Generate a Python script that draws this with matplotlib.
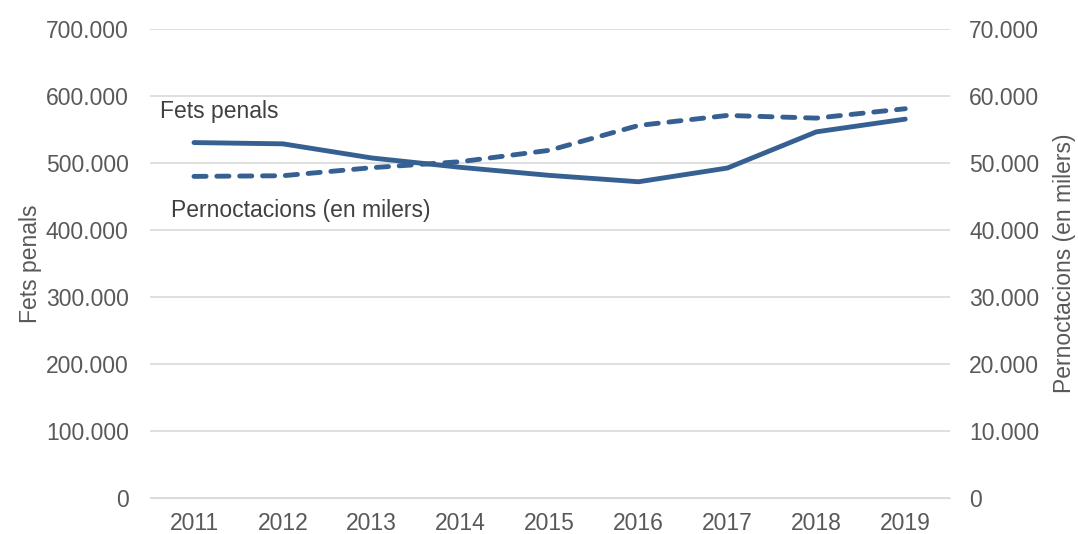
import matplotlib.pyplot as plt
from matplotlib.ticker import FuncFormatter

plt.rcParams['font.family'] = ['Liberation Sans', 'DejaVu Sans']

anys = ['2011', '2012', '2013', '2014', '2015', '2016', '2017', '2018', '2019']
fets_penals = [530500, 528600, 507500, 493500, 481500, 472000, 492500, 546500, 565500]
pernoctacions = [48000, 48100, 49300, 50200, 51900, 55600, 57100, 56700, 58100]

blau = '#376092'
gris = '#595959'
mida = 16.5


def punts(v, pos):
    return f'{int(v):,}'.replace(',', '.')


fig = plt.figure(figsize=(10.78, 5.34), dpi=100)
ax = fig.add_axes([0.1387, 0.0674, 0.7423, 0.8783])
ax2 = ax.twinx()

x = range(len(anys))
ax.plot(x, fets_penals, color=blau, lw=3.5, solid_capstyle='round', zorder=3)
ax2.plot(x, pernoctacions, color=blau, lw=3.5, ls=(0, (2.5, 2.2)),
         dash_capstyle='round', zorder=3)

ax.set_xlim(-0.5, len(anys) - 0.5)
ax.set_ylim(0, 700000)
ax2.set_ylim(0, 70000)
ax.set_yticks(range(0, 700001, 100000))
ax2.set_yticks(range(0, 70001, 10000))
ax.yaxis.set_major_formatter(FuncFormatter(punts))
ax2.yaxis.set_major_formatter(FuncFormatter(punts))
ax.set_xticks(list(x))
ax.set_xticklabels(anys)

ax.grid(axis='y', color='#d9d9d9', lw=1.2)
ax.set_axisbelow(True)
for a in (ax, ax2):
    for s in a.spines.values():
        s.set_visible(False)
    a.tick_params(length=0, colors=gris, labelsize=mida)
ax.tick_params(axis='y', pad=15)
ax2.tick_params(axis='y', pad=14)
ax.tick_params(axis='x', pad=10)
ax.spines['bottom'].set_visible(True)
ax.spines['bottom'].set_color('#d9d9d9')

ax.set_ylabel('Fets penals', color=gris, fontsize=mida, labelpad=3)
ax2.set_ylabel('Pernoctacions (en milers)', color=gris, fontsize=mida, labelpad=10)

ax.text(-0.38, 577000, 'Fets penals', color='#404040', fontsize=mida, va='center')
ax.text(-0.26, 429000, 'Pernoctacions (en milers)', color='#404040', fontsize=mida, va='center')

fig.savefig('out.png', dpi=100)
